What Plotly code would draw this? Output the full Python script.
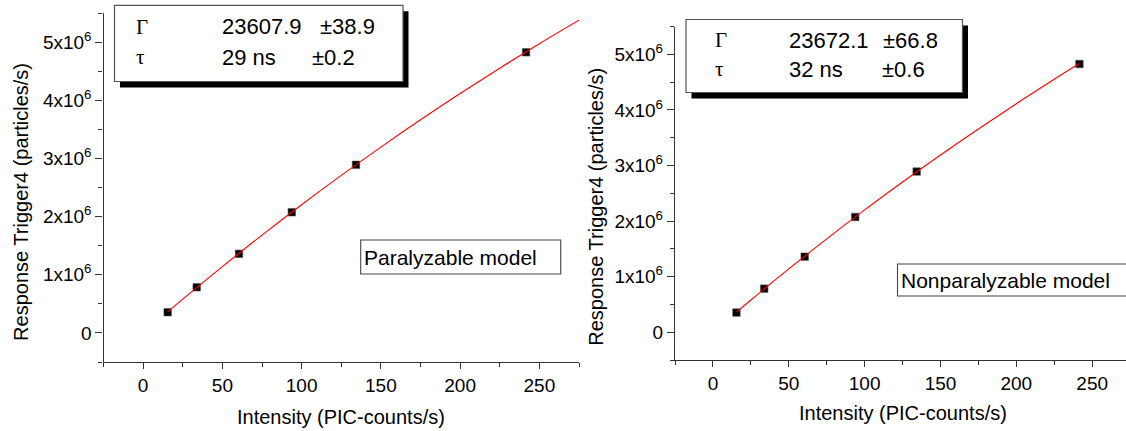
import plotly.graph_objects as go
from plotly.subplots import make_subplots

# ---------------- data ----------------
intensity = [15.5, 33.8, 60.5, 93.8, 134.3, 241.6]
response = [0.355e6, 0.785e6, 1.36e6, 2.075e6, 2.89e6, 4.825e6]

# fitted curves
par_fit_x = [15.5, 25, 50, 75, 100, 125, 150, 175, 200, 225, 250, 275]
par_fit_y = [0.362e6, 0.580e6, 1.141e6, 1.682e6, 2.205e6, 2.709e6, 3.196e6,
             3.665e6, 4.117e6, 4.553e6, 4.974e6, 5.378e6]
nonpar_fit_x = [15.5, 25, 50, 75, 100, 125, 150, 175, 200, 225, 241.5]
nonpar_fit_y = [0.363e6, 0.581e6, 1.140e6, 1.680e6, 2.201e6, 2.703e6, 3.189e6,
                3.658e6, 4.112e6, 4.551e6, 4.833e6]

par_params = [["Γ", "23607.9", "±38.9"], ["τ", "29 ns", "±0.2"]]
nonpar_params = [["Γ", "23672.1", "±66.8"], ["τ", "32 ns", "±0.6"]]
model_labels = ["Paralyzable model", "Nonparalyzable model"]

x_title = "Intensity (PIC-counts/s)"
y_title = "Response Trigger4 (particles/s)"
y_tickvals = [0, 1e6, 2e6, 3e6, 4e6, 5e6]
y_ticktext = ["0", "1x10<sup>6</sup>", "2x10<sup>6</sup>", "3x10<sup>6</sup>",
              "4x10<sup>6</sup>", "5x10<sup>6</sup>"]

# ---------------- layout helpers ----------------
W, H = 1126, 431
def px(x):
    return x / W
def py(y):
    return 1 - y / H

SANS = "Arial, Liberation Sans, sans-serif"
SERIF = "Times New Roman, Liberation Serif, serif"
AX = "#333333"

fig = make_subplots(rows=1, cols=2)

for col, (fx, fy) in enumerate([(par_fit_x, par_fit_y), (nonpar_fit_x, nonpar_fit_y)], start=1):
    fig.add_trace(go.Scatter(x=intensity, y=response, mode="markers",
                             marker=dict(symbol="square", size=7.5, color="black",
                                         line=dict(color="#555555", width=0.6)),
                             showlegend=False), row=1, col=col)
    fig.add_trace(go.Scatter(x=fx, y=fy, mode="lines", line_shape="spline",
                             line=dict(color="#ff0000", width=1.1),
                             showlegend=False), row=1, col=col)

xcommon = dict(showline=True, linecolor=AX, linewidth=1.4, showgrid=False, zeroline=False,
               tickmode="linear", tick0=0, dtick=50, ticks="outside", ticklen=6,
               tickwidth=1.3, tickcolor=AX,
               minor=dict(ticks="outside", ticklen=4, dtick=25, tick0=0, tickcolor=AX, tickwidth=1.3),
               tickfont=dict(family=SANS, size=19, color="black"))
ycommon = dict(showline=True, linecolor=AX, linewidth=1.4, showgrid=False, zeroline=False,
               range=[-0.5e6, 5.5e6], tickmode="array", tickvals=y_tickvals, ticktext=y_ticktext,
               ticks="outside", ticklen=7, tickwidth=1.3, tickcolor=AX,
               minor=dict(ticks="outside", ticklen=4, tickcolor=AX, tickwidth=1.3,
                          tickvals=[-0.5e6 + i * 1e6 for i in range(7)]),
               tickfont=dict(family=SANS, size=19, color="black"))

fig.update_xaxes(**xcommon)
fig.update_yaxes(**ycommon)
fig.update_layout(
    xaxis=dict(domain=[px(103.5), px(579)], range=[-25, 275]),
    yaxis=dict(domain=[py(362), py(13.1)]),
    xaxis2=dict(domain=[px(675), 1.0], range=[-25, 272.3]),
    yaxis2=dict(domain=[py(360.1), py(26.5)]),
)

shapes = []
annotations = []

# parameter boxes with drop shadow
def param_box(x0, y0, x1, y1, rows, sym_x, val_x, err_xs, row_ys):
    shapes.append(dict(type="rect", xref="paper", yref="paper",
                       x0=px(x0 + 5.5), x1=px(x1 + 5.5), y0=py(y1 + 6), y1=py(y0 + 6),
                       fillcolor="black", line=dict(width=0), layer="above"))
    shapes.append(dict(type="rect", xref="paper", yref="paper",
                       x0=px(x0), x1=px(x1), y0=py(y1), y1=py(y0),
                       fillcolor="white", line=dict(color="#555555", width=1.2), layer="above"))
    for (sym, val, err), ex, ry in zip(rows, err_xs, row_ys):
        annotations.append(dict(x=px(sym_x), y=py(ry), xref="paper", yref="paper", text=sym,
                                showarrow=False, xanchor="left", yanchor="middle",
                                font=dict(family=SERIF, size=21, color="black")))
        annotations.append(dict(x=px(val_x), y=py(ry), xref="paper", yref="paper", text=val,
                                showarrow=False, xanchor="left", yanchor="middle",
                                font=dict(family=SANS, size=22, color="black")))
        annotations.append(dict(x=px(ex), y=py(ry), xref="paper", yref="paper", text=err,
                                showarrow=False, xanchor="left", yanchor="middle",
                                font=dict(family=SANS, size=22, color="black")))

param_box(114.5, 5.3, 403, 81.5, par_params, 134, 220, [318, 310], [26.7, 57])
param_box(686, 19.5, 962.5, 92.5, nonpar_params, 712.5, 787, [881, 880], [40, 69])

# model labels
def model_box(x0, y0, x1, y1, text, tx):
    shapes.append(dict(type="rect", xref="paper", yref="paper",
                       x0=px(x0), x1=px(x1), y0=py(y1), y1=py(y0),
                       fillcolor="white", line=dict(color="#444444", width=1.1), layer="above"))
    annotations.append(dict(x=px(tx), y=py((y0 + y1) / 2), xref="paper", yref="paper", text=text,
                            showarrow=False, xanchor="left", yanchor="middle",
                            font=dict(family=SANS, size=21, color="black")))

model_box(360.7, 240, 560.7, 274, model_labels[0], 362)
model_box(897.5, 264, 1140, 296, model_labels[1], 899)

# axis titles
for cx, cy in [(341.3, 416.7), (902.5, 413)]:
    annotations.append(dict(x=px(cx), y=py(cy), xref="paper", yref="paper", text=x_title,
                            showarrow=False, xanchor="center", yanchor="middle",
                            font=dict(family=SANS, size=20, color="black")))
for cx, cy in [(21.4, 201.5), (596, 206.7)]:
    annotations.append(dict(x=px(cx), y=py(cy), xref="paper", yref="paper", text=y_title,
                            textangle=-90, showarrow=False, xanchor="center", yanchor="middle",
                            font=dict(family=SANS, size=20, color="black")))

fig.update_layout(width=W, height=H, autosize=False,
                  margin=dict(l=0, r=0, t=0, b=0, pad=0),
                  plot_bgcolor="white", paper_bgcolor="white",
                  showlegend=False, shapes=shapes, annotations=annotations)

fig.write_html("out.html", config={"displayModeBar": False},
               post_script="document.body.style.margin='0px';document.body.style.padding='0px';")
